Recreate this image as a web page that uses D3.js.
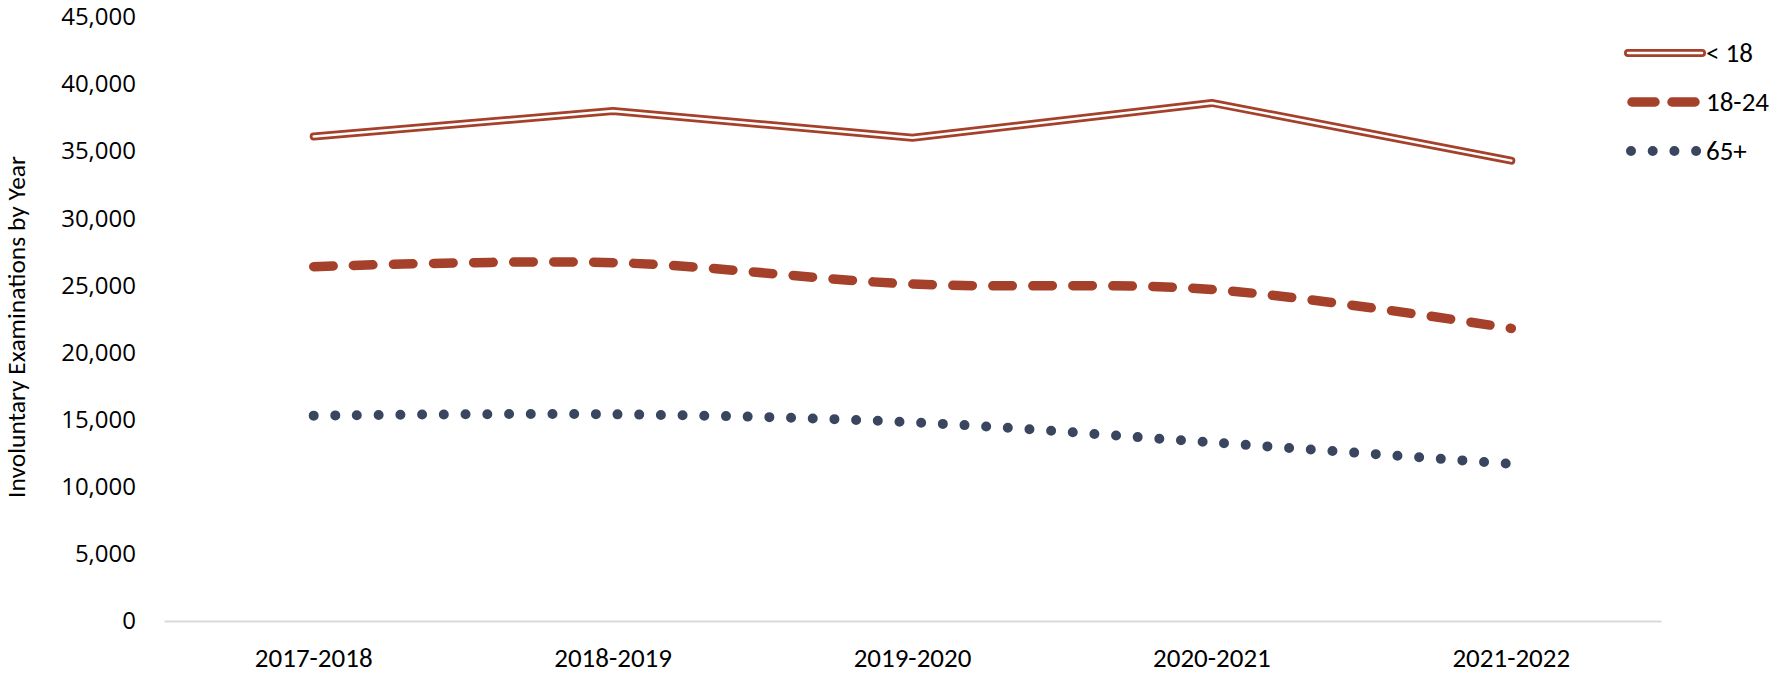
<!DOCTYPE html>
<html>
<head>
<meta charset="utf-8">
<script src="https://cdn.jsdelivr.net/npm/d3@7"></script>
<style>
  html, body { margin: 0; padding: 0; background: #fff; }
  svg { display: block; }
</style>
</head>
<body>
<div id="chart"></div>
<script>
const categories = ["2017-2018", "2018-2019", "2019-2020", "2020-2021", "2021-2022"];
const seriesNames = ["< 18", "18-24", "65+"];
const under18 = [36100, 38000, 36000, 38600, 34300];
const age18to24 = [26400, 26700, 25100, 24700, 21800];
const age65plus = [15300, 15400, 14800, 13300, 11700];
const yTicks = [0, 5000, 10000, 15000, 20000, 25000, 30000, 35000, 40000, 45000];
const yTitle = "Involuntary Examinations by Year";

const W = 1775, H = 673;
const margin = { left: 164, right: W - 1661, top: 17, bottom: H - 621 };
const red = "#A5402A", navy = "#3A4660";
const sans = "Carlito, Calibri, Lato, sans-serif";

const svg = d3.select("#chart").append("svg").attr("width", W).attr("height", H);

const x = d3.scaleBand().domain(categories).range([margin.left, W - margin.right]);
const y = d3.scaleLinear().domain([0, 45000]).range([H - margin.bottom, margin.top]);
const cx = d => x(d) + x.bandwidth() / 2;

// y axis labels
const yAxis = d3.axisLeft(y).tickValues(yTicks).tickSize(0).tickPadding(0)
  .tickFormat(d3.format(","));
const gy = svg.append("g").attr("transform", `translate(136,0)`).call(yAxis);
gy.select(".domain").remove();
gy.selectAll("text").attr("font-family", "'Open Sans', sans-serif").attr("font-size", 24).attr("fill", "#000");

// x axis
const xAxis = d3.axisBottom(x).tickSize(0).tickPadding(27);
const gx = svg.append("g").attr("transform", `translate(0,${y(0)})`).call(xAxis);
gx.select(".domain").attr("stroke", "#d9d9d9").attr("stroke-width", 2);
gx.selectAll("text").attr("font-family", sans).attr("font-size", 27).attr("fill", "#000");

// y title
svg.append("text")
  .attr("transform", `translate(25,${(y(0) + y(45000)) / 2 + 8}) rotate(-90)`)
  .attr("text-anchor", "middle")
  .attr("font-family", sans)
  .attr("font-size", 25.5)
  .attr("fill", "#000")
  .text(yTitle);

const linear = d3.line().x((d, i) => cx(categories[i])).y(d => y(d));
const smooth = d3.line().x((d, i) => cx(categories[i])).y(d => y(d)).curve(d3.curveCatmullRom.alpha(0.5));

// < 18 : double line
svg.append("path").attr("d", linear(under18)).attr("fill", "none")
  .attr("stroke", red).attr("stroke-width", 8).attr("stroke-linejoin", "round").attr("stroke-linecap", "round");
svg.append("path").attr("d", linear(under18)).attr("fill", "none")
  .attr("stroke", "#fff").attr("stroke-width", 2.5).attr("stroke-linejoin", "round").attr("stroke-linecap", "round");

// 18-24 : dashed
svg.append("path").attr("d", smooth(age18to24)).attr("fill", "none")
  .attr("stroke", red).attr("stroke-width", 9.5).attr("stroke-linecap", "round")
  .attr("stroke-dasharray", "19.5 20.5");

// 65+ : dotted
svg.append("path").attr("d", smooth(age65plus)).attr("fill", "none")
  .attr("stroke", navy).attr("stroke-width", 10).attr("stroke-linecap", "round")
  .attr("stroke-dasharray", "0 21.7");

// legend
const legY = [53, 102, 151];
const lx0 = 1628, lx1 = 1702;
const leg = svg.append("g");
leg.append("line").attr("x1", lx0).attr("x2", lx1).attr("y1", legY[0]).attr("y2", legY[0])
  .attr("stroke", red).attr("stroke-width", 8).attr("stroke-linecap", "round");
leg.append("line").attr("x1", lx0).attr("x2", lx1).attr("y1", legY[0]).attr("y2", legY[0])
  .attr("stroke", "#fff").attr("stroke-width", 2.5).attr("stroke-linecap", "round");
leg.append("line").attr("x1", lx0 + 4).attr("x2", lx1).attr("y1", legY[1]).attr("y2", legY[1])
  .attr("stroke", red).attr("stroke-width", 9.5).attr("stroke-linecap", "round").attr("stroke-dasharray", "23 17");
leg.append("line").attr("x1", lx0 + 3).attr("x2", lx1).attr("y1", legY[2]).attr("y2", legY[2])
  .attr("stroke", navy).attr("stroke-width", 10).attr("stroke-linecap", "round").attr("stroke-dasharray", "0 21.7");
seriesNames.forEach((n, i) => {
  leg.append("text").attr("x", 1706).attr("y", legY[i]).attr("dy", "0.35em")
    .attr("font-family", sans).attr("font-size", 27).attr("fill", "#000")
    .text(n);
});
</script>
</body>
</html>
